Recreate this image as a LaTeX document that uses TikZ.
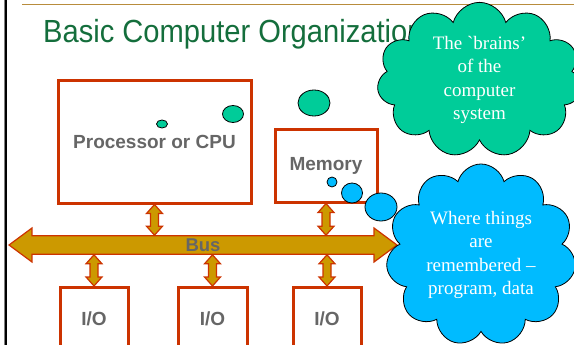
\documentclass[tikz,border=0pt]{standalone}
\usepackage{fontspec}
\setsansfont{Liberation Sans}
\newfontfamily\titlefont[FakeStretch=0.91]{Liberation Sans}
\newfontfamily\cloudfont[Ligatures=ResetAll]{Liberation Serif}
\usetikzlibrary{calc,shapes.symbols,shapes.arrows}
\definecolor{titlegreen}{RGB}{20,110,60}
\definecolor{boxred}{RGB}{204,51,0}
\definecolor{busgold}{RGB}{204,153,0}
\definecolor{labelgray}{RGB}{102,102,102}
\definecolor{rulegold}{RGB}{184,140,60}
\definecolor{cloudgreen}{RGB}{0,204,153}
\definecolor{cloudblue}{RGB}{0,187,255}

\begin{document}
\begin{tikzpicture}[x=1pt,y=-1pt,
    unit/.style={draw=boxred,line width=3pt,text=labelgray,font=\sffamily\bfseries\fontsize{19}{19}\selectfont},
    busarrow/.style={double arrow,draw=boxred,fill=busgold,line width=1.2pt,inner sep=0pt,
      minimum height=388pt,minimum width=34pt,double arrow head extend=6pt,double arrow tip angle=73,
      text=labelgray,font=\sffamily\bfseries\fontsize{18.5}{18.5}\selectfont},
    link/.style={draw=boxred,fill=busgold,line width=1.2pt},
    bubble/.style={draw=black,line width=0.8pt},
    thought/.style={cloud,cloud puffs=11,draw=black,line width=0.8pt,text=white,align=center,
      inner sep=0pt,font=\cloudfont\fontsize{19}{23.5}\selectfont}]
    \useasboundingbox (0,0) rectangle (574,345);
    \draw[rulegold,line width=1pt] (22,4.5) -- (574,4.5);
    \draw[gray,line width=1pt] (4.2,0) -- (4.2,345);
    \draw[black,line width=1.8pt] (5.8,0) -- (5.8,345);
    \node[anchor=base west,inner sep=0pt,text=titlegreen,font=\titlefont\fontsize{32}{32}\selectfont] (title) at (43,43) {Basic Computer Organization};
    % units on the bus
    \node[unit,minimum width=193pt,minimum height=122pt] (cpu) at (154.5,142) {Processor or CPU};
    \node[unit,minimum width=102pt,minimum height=72pt] (mem) at (326,166) {Memory};
    \node[busarrow] (bus) at (203,245) {Bus};
    \node[unit,minimum width=68pt,minimum height=62pt] (io1) at (94,318.5) {I/O};
    \node[unit,minimum width=69pt,minimum height=62pt] (io2) at (212.5,318.5) {I/O};
    \node[unit,minimum width=68pt,minimum height=62pt] (io3) at (327,318.5) {I/O};
    \foreach \a/\b/\c in {cpu/bus/cpu,mem/bus/mem,bus/io1/io1,bus/io2/io2,bus/io3/io3}
      \draw[link] let \p1=(\a.south -| \c), \p2=(\b.north -| \c) in
        (\x1,\y1) -- (\x1+8pt,\y1-9pt) -- (\x1+4pt,\y1-9pt) -- (\x1+4pt,\y2+9pt) -- (\x1+8pt,\y2+9pt)
        -- (\x1,\y2) -- (\x1-8pt,\y2+9pt) -- (\x1-4pt,\y2+9pt) -- (\x1-4pt,\y1-9pt) -- (\x1-8pt,\y1-9pt) -- cycle;
    % thought bubbles
    \draw[bubble,fill=cloudgreen] (162,124) ellipse [x radius=5.5pt,y radius=4pt];
    \draw[bubble,fill=cloudgreen] (233,114) ellipse [x radius=10.5pt,y radius=8.5pt];
    \draw[bubble,fill=cloudgreen] (314,103) ellipse [x radius=16pt,y radius=13pt];
    \draw[bubble,fill=cloudblue] (332,182) ellipse [x radius=5pt,y radius=5pt];
    \draw[bubble,fill=cloudblue] (352,193) ellipse [x radius=10.5pt,y radius=10pt];
    \draw[bubble,fill=cloudblue] (381,207) ellipse [x radius=16pt,y radius=14pt];
    \node[thought,fill=cloudgreen,minimum width=205pt,minimum height=146pt] (brains) at (479.5,80) {The `brains’\\of the\\computer\\system};
    \node[thought,fill=cloudblue,minimum width=190pt,minimum height=182pt] (store) at (481,255) {Where things\\are\\remembered –\\program, data};
\end{tikzpicture}
\end{document}
